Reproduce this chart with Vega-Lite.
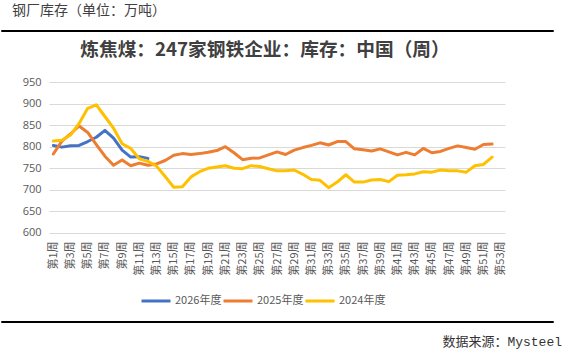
{
 "$schema": "https://vega.github.io/schema/vega-lite/v6.json",
 "background": "white",
 "padding": {"left": 0, "top": 3, "right": 0, "bottom": 0},
 "spacing": 51,
 "bounds": "flush",
 "center": true,
 "config": {"font": "Noto Sans CJK SC", "view": {"stroke": null}},
 "vconcat": [
  {
   "width": 552, "height": 1,
   "view": {"stroke": "black", "strokeWidth": 1},
   "title": {"text": "钢厂库存（单位：万吨）", "anchor": "start", "offset": 7, "dx": 11, "fontSize": 14, "fontWeight": "normal", "color": "#404040", "font": "Noto Sans CJK SC"},
   "data": {"values": [{"t": ""}]},
   "mark": {"type": "text"},
   "encoding": {"text": {"field": "t"}}
  },
  {
   "width": 456, "height": 188,
   "title": {"text": "炼焦煤：247家钢铁企业：库存：中国（周）", "anchor": "middle", "offset": 16, "dx": -12, "fontSize": 18.7, "fontWeight": "bold", "color": "#404040", "font": "Noto Sans CJK SC"},
   "data": {"values": [
    {"week": 1, "series": "2026年度", "value": 803}, {"week": 2, "series": "2026年度", "value": 799}, {"week": 3, "series": "2026年度", "value": 802}, {"week": 4, "series": "2026年度", "value": 803}, {"week": 5, "series": "2026年度", "value": 812}, {"week": 6, "series": "2026年度", "value": 822}, {"week": 7, "series": "2026年度", "value": 838}, {"week": 8, "series": "2026年度", "value": 820}, {"week": 9, "series": "2026年度", "value": 792}, {"week": 10, "series": "2026年度", "value": 776}, {"week": 11, "series": "2026年度", "value": 777}, {"week": 12, "series": "2026年度", "value": 773},
    {"week": 1, "series": "2025年度", "value": 783}, {"week": 2, "series": "2025年度", "value": 813}, {"week": 3, "series": "2025年度", "value": 830}, {"week": 4, "series": "2025年度", "value": 848}, {"week": 5, "series": "2025年度", "value": 833}, {"week": 6, "series": "2025年度", "value": 805}, {"week": 7, "series": "2025年度", "value": 778}, {"week": 8, "series": "2025年度", "value": 757}, {"week": 9, "series": "2025年度", "value": 769}, {"week": 10, "series": "2025年度", "value": 756},
    {"week": 11, "series": "2025年度", "value": 762}, {"week": 12, "series": "2025年度", "value": 757}, {"week": 13, "series": "2025年度", "value": 760}, {"week": 14, "series": "2025年度", "value": 768}, {"week": 15, "series": "2025年度", "value": 780}, {"week": 16, "series": "2025年度", "value": 784}, {"week": 17, "series": "2025年度", "value": 782}, {"week": 18, "series": "2025年度", "value": 784}, {"week": 19, "series": "2025年度", "value": 787}, {"week": 20, "series": "2025年度", "value": 791},
    {"week": 21, "series": "2025年度", "value": 800}, {"week": 22, "series": "2025年度", "value": 786}, {"week": 23, "series": "2025年度", "value": 770}, {"week": 24, "series": "2025年度", "value": 773}, {"week": 25, "series": "2025年度", "value": 774}, {"week": 26, "series": "2025年度", "value": 781}, {"week": 27, "series": "2025年度", "value": 788}, {"week": 28, "series": "2025年度", "value": 782}, {"week": 29, "series": "2025年度", "value": 792}, {"week": 30, "series": "2025年度", "value": 798},
    {"week": 31, "series": "2025年度", "value": 803}, {"week": 32, "series": "2025年度", "value": 809}, {"week": 33, "series": "2025年度", "value": 804}, {"week": 34, "series": "2025年度", "value": 812}, {"week": 35, "series": "2025年度", "value": 812}, {"week": 36, "series": "2025年度", "value": 795}, {"week": 37, "series": "2025年度", "value": 793}, {"week": 38, "series": "2025年度", "value": 790}, {"week": 39, "series": "2025年度", "value": 795}, {"week": 40, "series": "2025年度", "value": 788},
    {"week": 41, "series": "2025年度", "value": 781}, {"week": 42, "series": "2025年度", "value": 787}, {"week": 43, "series": "2025年度", "value": 781}, {"week": 44, "series": "2025年度", "value": 796}, {"week": 45, "series": "2025年度", "value": 786}, {"week": 46, "series": "2025年度", "value": 789}, {"week": 47, "series": "2025年度", "value": 796}, {"week": 48, "series": "2025年度", "value": 802}, {"week": 49, "series": "2025年度", "value": 798}, {"week": 50, "series": "2025年度", "value": 794},
    {"week": 51, "series": "2025年度", "value": 805}, {"week": 52, "series": "2025年度", "value": 806},
    {"week": 1, "series": "2024年度", "value": 813}, {"week": 2, "series": "2024年度", "value": 815}, {"week": 3, "series": "2024年度", "value": 827}, {"week": 4, "series": "2024年度", "value": 854}, {"week": 5, "series": "2024年度", "value": 889}, {"week": 6, "series": "2024年度", "value": 897}, {"week": 7, "series": "2024年度", "value": 870}, {"week": 8, "series": "2024年度", "value": 843}, {"week": 9, "series": "2024年度", "value": 807}, {"week": 10, "series": "2024年度", "value": 796},
    {"week": 11, "series": "2024年度", "value": 772}, {"week": 12, "series": "2024年度", "value": 766}, {"week": 13, "series": "2024年度", "value": 755}, {"week": 14, "series": "2024年度", "value": 731}, {"week": 15, "series": "2024年度", "value": 706}, {"week": 16, "series": "2024年度", "value": 707}, {"week": 17, "series": "2024年度", "value": 730}, {"week": 18, "series": "2024年度", "value": 742}, {"week": 19, "series": "2024年度", "value": 750}, {"week": 20, "series": "2024年度", "value": 753},
    {"week": 21, "series": "2024年度", "value": 756}, {"week": 22, "series": "2024年度", "value": 750}, {"week": 23, "series": "2024年度", "value": 749}, {"week": 24, "series": "2024年度", "value": 756}, {"week": 25, "series": "2024年度", "value": 754}, {"week": 26, "series": "2024年度", "value": 749}, {"week": 27, "series": "2024年度", "value": 744}, {"week": 28, "series": "2024年度", "value": 744}, {"week": 29, "series": "2024年度", "value": 746}, {"week": 30, "series": "2024年度", "value": 736},
    {"week": 31, "series": "2024年度", "value": 724}, {"week": 32, "series": "2024年度", "value": 722}, {"week": 33, "series": "2024年度", "value": 705}, {"week": 34, "series": "2024年度", "value": 718}, {"week": 35, "series": "2024年度", "value": 735}, {"week": 36, "series": "2024年度", "value": 718}, {"week": 37, "series": "2024年度", "value": 718}, {"week": 38, "series": "2024年度", "value": 723}, {"week": 39, "series": "2024年度", "value": 724}, {"week": 40, "series": "2024年度", "value": 719},
    {"week": 41, "series": "2024年度", "value": 734}, {"week": 42, "series": "2024年度", "value": 735}, {"week": 43, "series": "2024年度", "value": 737}, {"week": 44, "series": "2024年度", "value": 742}, {"week": 45, "series": "2024年度", "value": 741}, {"week": 46, "series": "2024年度", "value": 746}, {"week": 47, "series": "2024年度", "value": 744}, {"week": 48, "series": "2024年度", "value": 744}, {"week": 49, "series": "2024年度", "value": 741}, {"week": 50, "series": "2024年度", "value": 756},
    {"week": 51, "series": "2024年度", "value": 759}, {"week": 52, "series": "2024年度", "value": 776}
   ]},
   "mark": {"type": "line", "strokeWidth": 3, "strokeJoin": "round", "strokeCap": "round"},
   "encoding": {
    "x": {"field": "week", "type": "quantitative",
      "scale": {"domain": [0.5, 53.5], "nice": false, "zero": false},
      "axis": {"values": [1,3,5,7,9,11,13,15,17,19,21,23,25,27,29,31,33,35,37,39,41,43,45,47,49,51,53],
        "labelExpr": "'第' + datum.value + '周'", "labelAngle": -90, "offset": -37, "domain": false, "ticks": false, "grid": false, "title": null,
        "labelFontSize": 11, "labelColor": "#595959", "labelPadding": 8, "labelFont": "Noto Sans CJK SC", "labelOverlap": false}},
    "y": {"field": "value", "type": "quantitative",
      "scale": {"domain": [514.2, 950], "nice": false, "zero": false},
      "axis": {"values": [600,650,700,750,800,850,900,950], "title": null, "domain": false, "ticks": false,
        "gridColor": "#d9d9d9", "gridWidth": 1, "labelFontSize": 11, "labelColor": "#595959", "labelPadding": 8, "labelFont": "Open Sans"}},
    "color": {"field": "series", "type": "nominal",
      "scale": {"domain": ["2026年度", "2025年度", "2024年度"], "range": ["#4472C4", "#ED7D31", "#FFC000"]},
      "legend": {"orient": "none", "legendX": 139, "legendY": 255, "direction": "horizontal", "title": null,
        "symbolType": "stroke", "symbolStrokeWidth": 3, "symbolSize": 841, "labelFontSize": 11, "labelColor": "#595959",
        "labelOffset": 3, "columnPadding": -6, "padding": 0, "labelFont": "Noto Sans CJK SC"}}
   }
  },
  {
   "width": 552, "height": 1,
   "view": {"stroke": "black", "strokeWidth": 1},
   "title": {"text": "数据来源：Mysteel", "orient": "bottom", "anchor": "end", "offset": 9, "dx": 9, "fontSize": 13, "fontWeight": "normal", "color": "#333333", "font": "Liberation Mono, Noto Sans CJK SC"},
   "data": {"values": [{"t": ""}]},
   "mark": {"type": "text"},
   "encoding": {"text": {"field": "t"}}
  }
 ]
}
